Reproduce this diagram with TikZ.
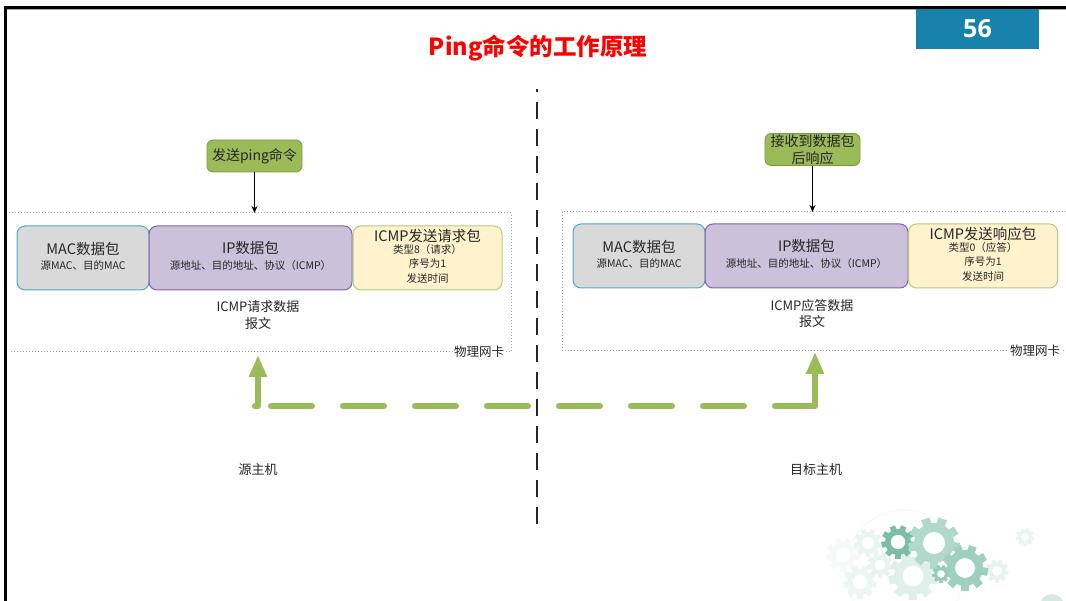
\documentclass[tikz,border=0pt]{standalone}
\usepackage{fontspec}
\setmainfont{Noto Sans CJK SC}
\newfontfamily\numfont{Open Sans}
\usetikzlibrary{arrows.meta}

\definecolor{pagenum}{HTML}{1783AD}
\definecolor{cmdfill}{HTML}{9BBB59}
\definecolor{cmdedge}{HTML}{7A9A3E}
\definecolor{macfill}{HTML}{D9D9D9}
\definecolor{macedge}{HTML}{4BACC6}
\definecolor{ipfill}{HTML}{CCC1DA}
\definecolor{ipedge}{HTML}{8064A2}
\definecolor{icmpfill}{HTML}{FFF2CC}
\definecolor{icmpedge}{HTML}{B3CB7F}
\definecolor{flow}{HTML}{9BBB59}
\definecolor{nicline}{HTML}{A6A6A6}
\definecolor{txt}{HTML}{262626}
\definecolor{cogteal}{HTML}{4FA88B}

% a simple cog wheel: centre x, centre y, radius, colour
\newcommand{\cog}[4]{%
  \begin{scope}[shift={(#1,#2)}]
    \fill[#4] (0,0) circle[radius={#3pt}];
    \foreach \a in {0,40,...,320}
      \fill[#4,rotate=\a] (-0.22*#3,0) rectangle (0.22*#3,1.28*#3);
    \fill[white] (0,0) circle[radius={0.55*#3pt}];
  \end{scope}}

\begin{document}
\begin{tikzpicture}[x=1pt,y=-1pt,
  cmdbox/.style={draw=cmdedge, fill=cmdfill, line width=0.8pt, rounded corners=6pt,
    minimum width=95pt, minimum height=32pt, inner sep=0pt, align=center,
    text=txt, font=\fontsize{14}{17}\selectfont},
  pkt/.style={line width=1pt, rounded corners=8pt, minimum height=64pt, inner sep=0pt},
  macbox/.style={pkt, draw=macedge, fill=macfill, minimum width=132pt},
  ipbox/.style={pkt, draw=ipedge, fill=ipfill, minimum width=203pt},
  icmpbox/.style={pkt, draw=icmpedge, fill=icmpfill, minimum width=149pt},
  head/.style={inner sep=0pt, text=txt, font=\fontsize{14.5}{16}\selectfont},
  sub/.style={inner sep=0pt, text=txt, font=\fontsize{10.5}{12}\selectfont},
  note/.style={inner sep=0pt, align=center, text=txt, font=\fontsize{13}{16.5}\selectfont},
  niclabel/.style={fill=white, inner sep=1.5pt, text=txt, font=\fontsize{12.5}{14}\selectfont},
  nic/.style={draw=nicline, line width=1pt, dotted},
  cmdarrow/.style={-{Stealth[length=7pt,width=6pt]}, line width=1.3pt, black},
  flowtip/.style={-{Triangle[length=22pt,width=17pt]}, line width=6pt, flow},
  flowdash/.style={line width=6pt, flow, line cap=round, dash pattern=on 41pt off 31pt}
]
\useasboundingbox (0,0) rectangle (1066,601);
\fill[white] (0,0) rectangle (1066,601);

% slide frame and page number
\draw[black!35, line width=0.8pt] (7,9.8) -- (1066,9.8);
\draw[black, line width=3pt] (5.5,601) -- (5.5,7.5) -- (1066,7.5);
\node[fill=pagenum, minimum width=123pt, minimum height=40pt, inner sep=0pt,
  text=white, font=\numfont\bfseries\fontsize{25}{28}\selectfont] (page) at (977.5,29) {56};

% title
\node[text=red, font=\bfseries\fontsize{23.5}{27}\selectfont] (title) at (538,48) {Ping命令的工作原理};

% divider between the two hosts
\draw[black!85, line width=2.5pt, dash pattern=on 17pt off 10pt, dash phase=14pt]
  (537,89) -- (537,524);

% ---------- source host ----------
\node[cmdbox] (cmd1) at (254.5,156) {发送ping命令};
\coordinate (nic1top) at (254.5,213);
\draw[cmdarrow] (cmd1) -- (nic1top);
\draw[nic] (9,213) -- (511,213) -- (511,352) -- (9,352);
\node[niclabel] (nic1) at (479,352) {物理网卡};

\node[macbox]  (mac1)  at (83,258)    {};
\node[ipbox]   (ip1)   at (250.5,258) {};
\node[icmpbox] (icmp1) at (427.5,258) {};
\node[head] (mac1h) at ([yshift=9pt]mac1.center) {MAC数据包};
\node[sub]  (mac1s) at ([yshift=-7pt]mac1.center) {源MAC、目的MAC};
\node[head] (ip1h) at ([yshift=10pt]ip1.center) {IP数据包};
\node[sub]  (ip1s) at ([yshift=-8pt]ip1.center) {源地址、目的地址、协议（ICMP）};
\node[head] (icmp1h) at ([yshift=22pt]icmp1.center) {ICMP发送请求包};
\node[sub]  (icmp1a) at ([yshift=8pt]icmp1.center) {类型8（请求）};
\node[sub]  (icmp1b) at ([yshift=-6pt]icmp1.center) {序号为1};
\node[sub]  (icmp1c) at ([yshift=-21pt]icmp1.center) {发送时间};
\node[note] (req) at (258,315) {ICMP请求数据\\报文};
\node[note] (host1) at (258,470) {源主机};

% ---------- target host ----------
\node[cmdbox] (cmd2) at (812.5,149.5) {接收到数据包\\后响应};
\coordinate (nic2top) at (812.5,212);
\draw[cmdarrow] (cmd2) -- (nic2top);
\draw[nic] (1066,212) -- (562,212) -- (562,350.5) -- (1066,350.5);
\node[niclabel] (nic2) at (1035,350.5) {物理网卡};

\node[macbox]  (mac2)  at (639,256)   {};
\node[ipbox]   (ip2)   at (806.5,256) {};
\node[icmpbox] (icmp2) at (983,256)   {};
\node[head] (mac2h) at ([yshift=9pt]mac2.center) {MAC数据包};
\node[sub]  (mac2s) at ([yshift=-7pt]mac2.center) {源MAC、目的MAC};
\node[head] (ip2h) at ([yshift=10pt]ip2.center) {IP数据包};
\node[sub]  (ip2s) at ([yshift=-8pt]ip2.center) {源地址、目的地址、协议（ICMP）};
\node[head] (icmp2h) at ([yshift=22pt]icmp2.center) {ICMP发送响应包};
\node[sub]  (icmp2a) at ([yshift=8pt]icmp2.center) {类型0（应答）};
\node[sub]  (icmp2b) at ([yshift=-6pt]icmp2.center) {序号为1};
\node[sub]  (icmp2c) at ([yshift=-21pt]icmp2.center) {发送时间};
\node[note] (rep) at (812,313.5) {ICMP应答数据\\报文};
\node[note] (host2) at (816,470) {目标主机};

% ---------- transfer path between the network cards ----------
\coordinate (up1) at (258,355);
\coordinate (up2) at (815,352);
\coordinate (c1) at (258,406);
\coordinate (c2) at (815,406);
\draw[flowtip] (c1) -- (up1);
\draw[flowtip] (c2) -- (up2);
\draw[line width=6pt, flow, line cap=round] (255,406) -- (258,406);
\draw[flowdash] (271,406) -- (815,406);

% ---------- cog decoration ----------
\begin{scope}
  \draw[cogteal!6, line width=1pt] (905,570) circle[radius=60pt];
  \fill[cogteal!25] (1052,606) circle[radius=12pt];
  \cog{843}{555}{13}{cogteal!6}
  \cog{860}{582}{13}{cogteal!10}
  \cog{868}{543}{11}{cogteal!12}
  \cog{880}{565}{10}{cogteal!14}
  \cog{913}{576}{19}{cogteal!18}
  \cog{997}{571}{9}{cogteal!14}
  \cog{1025}{537}{7}{cogteal!12}
  \cog{898}{542}{13}{cogteal!75}
  \cog{934}{543}{20}{cogteal!45}
  \cog{965}{568}{18}{cogteal!55}
  \cog{941}{574}{7}{cogteal!60}
\end{scope}
\end{tikzpicture}
\end{document}
